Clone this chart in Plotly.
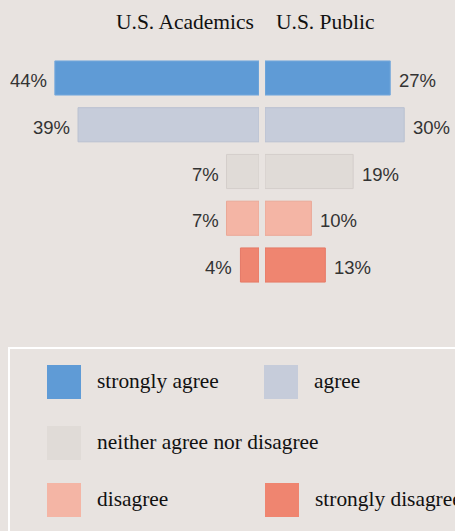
import plotly.graph_objects as go

categories = ["strongly agree", "agree", "neither agree nor disagree", "disagree", "strongly disagree"]
academics = [44, 39, 7, 7, 4]
public = [27, 30, 19, 10, 13]
colors = ["#5f9bd6", "#c6ccda", "#e0dbd7", "#f4b5a5", "#ef8570"]
edge_colors = ["#79abdc", "#b9c0d0", "#d4cecb", "#eaa897", "#e67a66"]
panel_titles = ["U.S. Academics", "U.S. Public"]

W, H = 455, 531
BG = "#e8e3e0"
PX_PER_PCT = 4.64
LEFT_ZERO = 259
RIGHT_ZERO = 265


def px(x):
    return x / W


def py(y):
    return 1 - y / H


fig = go.Figure()
fig.add_trace(go.Bar(orientation="h", y=categories, x=academics,
                     marker=dict(color=colors, line=dict(color=edge_colors, width=1)),
                     xaxis="x", yaxis="y", showlegend=False, hoverinfo="x+y"))
fig.add_trace(go.Bar(orientation="h", y=categories, x=public,
                     marker=dict(color=colors, line=dict(color=edge_colors, width=1)),
                     xaxis="x2", yaxis="y", showlegend=False, hoverinfo="x+y"))

annotations = []
label_font = dict(family="Liberation Sans, Arial, sans-serif", size=18.5, color="#333333")
for c, a, p in zip(categories, academics, public):
    annotations.append(dict(x=a, y=c, xref="x", yref="y", text=f"{a}%", showarrow=False,
                            xanchor="right", xshift=-6, yshift=-2.5, font=label_font))
    annotations.append(dict(x=p, y=c, xref="x2", yref="y", text=f"{p}%", showarrow=False,
                            xanchor="left", xshift=7, yshift=-2.5, font=label_font))

title_font = dict(family="Liberation Serif, Times New Roman, serif", size=21.5, color="#111111")
annotations.append(dict(x=px(256), y=py(22), xref="paper", yref="paper", text=panel_titles[0],
                        showarrow=False, xanchor="right", yanchor="middle", font=title_font))
annotations.append(dict(x=px(274), y=py(22), xref="paper", yref="paper", text=panel_titles[1],
                        showarrow=False, xanchor="left", yanchor="middle", font=title_font))

# Legend (manual, large square swatches)
shapes = [dict(type="rect", xref="paper", yref="paper", x0=px(9), x1=px(470), y0=py(348), y1=py(545),
               line=dict(color="white", width=2), fillcolor="rgba(0,0,0,0)", layer="below")]
legend_pos = [(47, 365), (264, 365), (47, 426), (47, 483), (265, 483)]
leg_font = dict(family="Liberation Serif, Times New Roman, serif", size=21.4, color="#111111")
for cat, col, (lx, ly) in zip(categories, colors, legend_pos):
    shapes.append(dict(type="rect", xref="paper", yref="paper", x0=px(lx), x1=px(lx + 34),
                       y0=py(ly), y1=py(ly + 34), fillcolor=col, line=dict(width=0)))
    annotations.append(dict(x=px(lx + 48), y=py(ly + 16), xref="paper", yref="paper", text=cat,
                            showarrow=False, xanchor="left", yanchor="middle", font=leg_font))

top_px = 78 - 46.75 / 2
bot_px = 265 + 46.75 / 2

fig.update_layout(
    width=W, height=H,
    margin=dict(l=0, r=0, t=0, b=0),
    paper_bgcolor=BG, plot_bgcolor=BG,
    bargap=0.27,
    xaxis=dict(domain=[0, px(LEFT_ZERO)], range=[LEFT_ZERO / PX_PER_PCT, 0], visible=False, fixedrange=True),
    xaxis2=dict(domain=[px(RIGHT_ZERO), 1], range=[0, (W - RIGHT_ZERO) / PX_PER_PCT], visible=False,
                fixedrange=True),
    yaxis=dict(domain=[py(bot_px), py(top_px)], type="category", categoryorder="array",
               categoryarray=categories, range=[4.5, -0.5], visible=False, fixedrange=True),
    annotations=annotations,
    shapes=shapes,
    showlegend=False,
)

fig.write_html(
    "out.html",
    config={"displayModeBar": False},
    post_script="document.body.style.margin='0';document.body.style.overflow='hidden';"
                "document.documentElement.style.overflow='hidden';",
)
